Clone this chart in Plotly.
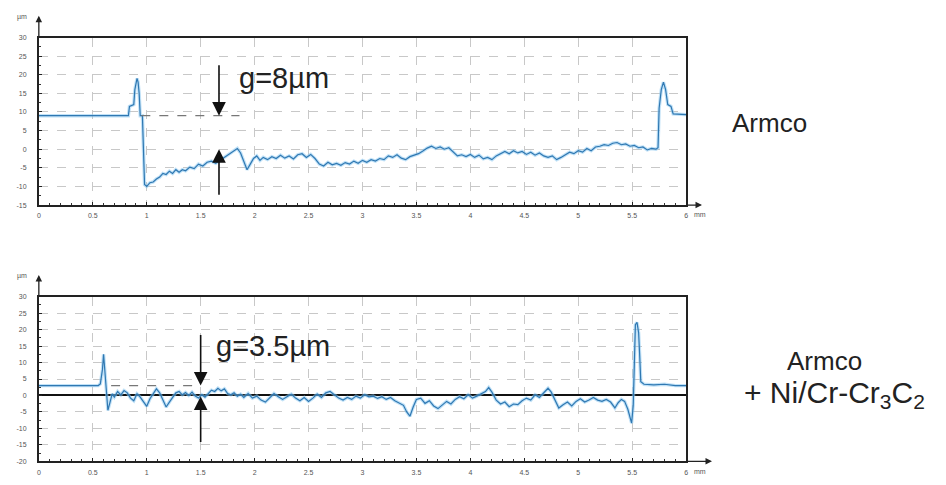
import plotly.graph_objects as go

# ---------------- data ----------------
top_x = [0, 0.83, 0.84, 0.88, 0.89, 0.91, 0.92, 0.93, 0.94, 0.96, 0.98, 1.00, 1.03, 1.06, 1.09, 1.12, 1.15,
         1.18, 1.21, 1.24, 1.27, 1.30, 1.33, 1.36, 1.40, 1.44, 1.48, 1.52, 1.56, 1.60, 1.64, 1.68, 1.72,
         1.76, 1.80, 1.84, 1.87, 1.90, 1.93, 1.96, 1.99, 2.02, 2.05, 2.08, 2.12, 2.16, 2.20, 2.24, 2.28,
         2.32, 2.36, 2.40, 2.44, 2.48, 2.52, 2.56, 2.60, 2.64, 2.68, 2.72, 2.76, 2.80, 2.84, 2.88, 2.92,
         2.96, 3.00, 3.04, 3.08, 3.12, 3.16, 3.20, 3.24, 3.28, 3.32, 3.36, 3.40, 3.44, 3.48, 3.52, 3.56,
         3.60, 3.64, 3.68, 3.72, 3.76, 3.80, 3.84, 3.88, 3.92, 3.96, 4.00, 4.04, 4.08, 4.12, 4.16, 4.20,
         4.24, 4.28, 4.32, 4.36, 4.40, 4.44, 4.48, 4.52, 4.56, 4.60, 4.64, 4.68, 4.72, 4.76, 4.80, 4.84,
         4.88, 4.92, 4.96, 5.00, 5.04, 5.08, 5.12, 5.16, 5.20, 5.24, 5.28, 5.32, 5.36, 5.40, 5.44, 5.48,
         5.52, 5.56, 5.60, 5.64, 5.68, 5.72, 5.74, 5.75, 5.77, 5.79, 5.81, 5.83, 5.86, 5.88, 6.0]
top_y = [9.0, 9.0, 11.5, 12.0, 16, 19, 18, 15, 9, 9, -9.5, -10, -9, -8.8, -8, -7.5, -6.5,
         -6.8, -5.9, -6.5, -5.5, -6.2, -5.5, -5.8, -4.8, -5.2, -4.0, -4.5, -3.5, -3.2, -3.8, -3.0, -2.2,
         -1.5, -0.5, 0.2, -1.0, -3.5, -5.5, -4.0, -2.5, -1.8, -3.0, -2.2, -2.8, -2.0, -2.5, -1.6, -2.4,
         -1.8, -2.6, -1.5, -1.2, -2.2, -1.4, -2.5, -4.0, -4.5, -3.5, -4.2, -3.8, -4.3, -3.6, -4.0, -3.2,
         -3.8, -3.0, -3.5, -2.8, -3.2, -2.5, -2.8, -1.8, -2.2, -1.5, -2.4, -2.8, -2.0, -1.6, -1.2, -0.5,
         0.3, 0.8, 0.2, 0.6, 0.0, 0.4, -0.8, -1.8, -1.5, -2.0, -1.4, -2.2, -1.6, -2.6, -2.2, -2.8,
         -1.8, -1.2, -0.6, -1.2, -0.4, -1.0, -0.6, -1.4, -0.8, -1.6, -1.0, -1.8, -2.2, -1.8, -2.8, -2.2,
         -1.4, -0.8, -1.2, -0.4, -0.8, 0.2, -0.4, 0.6, 0.8, 1.2, 1.0, 1.6, 1.8, 1.2, 1.4, 0.8,
         1.0, 0.4, 0.6, -0.2, 0.2, 0.0, 0.4, 11, 16, 18, 16, 12, 11.5, 9.5, 9.3]

bot_x = [0, 0.55, 0.57, 0.59, 0.60, 0.61, 0.62, 0.64, 0.66, 0.68, 0.70, 0.73, 0.76, 0.79, 0.82, 0.85,
         0.88, 0.91, 0.94, 0.97, 1.00, 1.03, 1.06, 1.09, 1.12, 1.15, 1.18, 1.21, 1.24, 1.27, 1.30, 1.33,
         1.36, 1.39, 1.42, 1.45, 1.48, 1.51, 1.54, 1.57, 1.60, 1.63, 1.66, 1.69, 1.72, 1.75, 1.78, 1.81,
         1.84, 1.87, 1.90, 1.94, 1.98, 2.02, 2.06, 2.10, 2.14, 2.18, 2.22, 2.26, 2.30, 2.34, 2.38, 2.42,
         2.46, 2.50, 2.54, 2.58, 2.62, 2.66, 2.70, 2.74, 2.78, 2.82, 2.86, 2.90, 2.94, 2.98, 3.02, 3.06,
         3.10, 3.14, 3.18, 3.22, 3.26, 3.30, 3.34, 3.38, 3.41, 3.44, 3.47, 3.50, 3.54, 3.58, 3.62, 3.66,
         3.70, 3.74, 3.78, 3.82, 3.86, 3.90, 3.94, 3.98, 4.02, 4.06, 4.10, 4.14, 4.17, 4.20, 4.24, 4.28,
         4.32, 4.36, 4.40, 4.44, 4.48, 4.52, 4.56, 4.60, 4.64, 4.68, 4.72, 4.75, 4.78, 4.82, 4.86, 4.90,
         4.94, 4.98, 5.02, 5.06, 5.10, 5.14, 5.18, 5.22, 5.26, 5.30, 5.34, 5.37, 5.40, 5.43, 5.46, 5.48,
         5.495, 5.51, 5.52, 5.53, 5.545, 5.56, 5.57, 5.58, 5.61, 5.7, 5.8, 5.9, 6.0]
bot_y = [3, 3, 3.5, 8, 12.5, 8, 2, -4.5, -2, 0.5, -0.5, 1.2, 0.2, 1.5, 0.8, -0.8,
         -1.6, 0.5, -0.5, -2.0, -3.3, -1.0, 0.5, 2.0, 0.8, -1.5, -3.5, -2.0, -0.5, 0.8, 1.2, 0.2,
         0.9, 0.0, 1.0, -0.2, -0.8, 0.2, -0.5, 0.6, 1.6, 1.2, 2.2, 1.4, 2.0, 0.6, 0.2, 0.8,
         -0.2, 0.4, -0.6, 0.6, -0.8, -0.2, -1.4, -2.0, -0.8, 0.6, -0.4, -1.2, -0.4, 0.4, -0.8, -1.6,
         -0.6, -1.8, -0.8, 0.4, -0.6, 0.8, 1.2, 0.2, -0.8, -1.4, -0.6, -1.2, -0.2, -0.8, 0.2, -0.4,
         -0.2, -0.9, -0.4, -1.2, -0.6, -1.6, -2.2, -3.0, -5.0, -6.3, -3.5, -1.2, -0.8, -2.4, -1.6, -3.2,
         -4.0, -2.8, -1.8, -2.6, -1.2, -0.4, -1.0, 0.2, -0.8, -0.2, 0.6, 1.2, 2.4, 1.0, -1.4, -2.6,
         -2.0, -3.4, -2.6, -2.8, -1.6, -0.8, -1.4, 0.2, -0.6, 0.8, 2.2, 1.0, -1.0, -3.8, -2.8, -2.0,
         -3.2, -1.8, -1.0, -2.0, -1.4, -0.6, -1.4, -1.8, -1.2, -2.0, -3.8, -2.2, -1.2, -1.8, -4.2, -7.0,
         -8.4, -3.0, 10, 21.5, 22.2, 19, 12, 4.2, 3.4, 3.2, 3.4, 3.0, 3.0]

x_ticks = [0, 0.5, 1, 1.5, 2, 2.5, 3, 3.5, 4, 4.5, 5, 5.5, 6]
x_tick_text = ["0", "0.5", "1", "1.5", "2", "2.5", "3", "3.5", "4", "4.5", "5", "5.5", "6"]
top_y_ticks = [30, 25, 20, 15, 10, 5, 0, -5, -10, -15]
bot_y_ticks = [30, 25, 20, 15, 10, 5, 0, -5, -10, -15, -20]

# gap annotations (data units)
top_gap = dict(x=1.67, upper=9.0, lower=0.0, ref_x0=0.95, ref_x1=1.86, text="g=8µm", tx=1.84, ty=19.0)
bot_gap = dict(x=1.50, upper=3.0, lower=-0.3, ref_x0=0.67, ref_x1=1.44, text="g=3.5µm", tx=1.62, ty=15.0)

W, H = 946, 485
def py(p):  # pixel row -> paper y
    return 1 - p / H
def px(p):
    return p / W

X0, X1 = px(37), px(687)
top_dom = [py(204), py(34)]
bot_dom = [py(464), py(297)]

fig = go.Figure()
line_glow = dict(color="rgba(140,200,240,0.55)", width=3.4)
line_core = dict(color="#2f78b2", width=1.2)
for xs, ys, xa, ya in [(top_x, top_y, "x", "y"), (bot_x, bot_y, "x2", "y2")]:
    fig.add_trace(go.Scatter(x=xs, y=ys, mode="lines", line=line_glow, xaxis=xa, yaxis=ya,
                             hoverinfo="skip", showlegend=False))
    fig.add_trace(go.Scatter(x=xs, y=ys, mode="lines", line=line_core, xaxis=xa, yaxis=ya,
                             showlegend=False))

FONT = "Liberation Sans, Arial"
tickfont = dict(family=FONT, size=7, color="#555")
common_x = dict(range=[0, 6], tickvals=x_ticks, ticktext=x_tick_text, showgrid=True,
                gridcolor="#c8c8c8", griddash="dash", gridwidth=1, zeroline=False,
                showline=True, linecolor="#222", linewidth=1.8, mirror=True,
                ticks="inside", ticklen=3, tickcolor="#222", tickfont=tickfont, ticklabelstandoff=3,
                minor=dict(dtick=0.1, ticks="inside", ticklen=2, tickcolor="#333", showgrid=False))
common_y = dict(showgrid=True, gridcolor="#c8c8c8", griddash="dash", gridwidth=1,
                showline=True, linecolor="#222", linewidth=1.8, mirror=True,
                ticks="inside", ticklen=3, tickcolor="#222", tickfont=tickfont, ticklabelstandoff=9,
                minor=dict(dtick=2.5, ticks="inside", ticklen=2, tickcolor="#333", showgrid=False))

fig.update_layout(
    width=W, height=H, margin=dict(l=0, r=0, t=0, b=0),
    paper_bgcolor="white", plot_bgcolor="white", showlegend=False,
    xaxis=dict(domain=[X0, X1], anchor="y", **common_x),
    yaxis=dict(domain=top_dom, anchor="x", range=[-15, 30], tickvals=top_y_ticks,
               ticktext=[str(v) for v in top_y_ticks], zeroline=False, **common_y),
    xaxis2=dict(domain=[X0, X1], anchor="y2", **common_x),
    yaxis2=dict(domain=bot_dom, anchor="x2", range=[-20, 30], tickvals=bot_y_ticks,
                ticktext=[str(v) for v in bot_y_ticks], zeroline=True, zerolinecolor="#111",
                zerolinewidth=2, **common_y),
)

shapes = []
anns = []
for g, xr, yr in [(top_gap, "x", "y"), (bot_gap, "x2", "y2")]:
    shapes.append(dict(type="line", xref=xr, yref=yr, x0=g["ref_x0"], x1=g["ref_x1"],
                       y0=g["upper"], y1=g["upper"], line=dict(color="#777", width=1.2, dash="dash")))
    anns.append(dict(xref=xr, yref=yr, x=g["x"], y=g["upper"], ax=0, ay=-52, showarrow=True,
                     arrowhead=2, arrowsize=1.7, arrowwidth=1.6, arrowcolor="#111", text=""))
    anns.append(dict(xref=xr, yref=yr, x=g["x"], y=g["lower"], ax=0, ay=47, showarrow=True,
                     arrowhead=2, arrowsize=1.7, arrowwidth=1.6, arrowcolor="#111", text=""))
    anns.append(dict(xref=xr, yref=yr, x=g["tx"], y=g["ty"], text=g["text"], showarrow=False,
                     xanchor="left", yanchor="middle",
                     font=dict(family=FONT, size=29, color="#222")))

# axis arrows and unit labels
for dom, tip_off in [(top_dom, 16), (bot_dom, 26)]:
    anns.append(dict(xref="paper", yref="paper", x=X0, y=dom[1] + 22 / H, ax=0, ay=22,
                     showarrow=True, arrowhead=2, arrowsize=1, arrowwidth=1.3, arrowcolor="#222", text=""))
    anns.append(dict(xref="paper", yref="paper", x=X0 - 10 / W, y=dom[1] + 21 / H, text="µm",
                     xanchor="right", yanchor="middle",
                     showarrow=False, font=dict(family=FONT, size=7, color="#555")))
    anns.append(dict(xref="paper", yref="paper", x=X1 + tip_off / W, y=dom[0], ax=-tip_off, ay=0,
                     showarrow=True, arrowhead=2, arrowsize=1, arrowwidth=1.3, arrowcolor="#222", text=""))
    anns.append(dict(xref="paper", yref="paper", x=X1 + 6 / W, y=dom[0] - 10 / H, text="mm",
                     xanchor="left", yanchor="middle",
                     showarrow=False, font=dict(family=FONT, size=7, color="#555")))

anns.append(dict(xref="paper", yref="paper", x=px(771), y=py(121), text="Armco", showarrow=False,
                 xanchor="center", yanchor="middle",
                 font=dict(family=FONT, size=26, color="#222")))
anns.append(dict(xref="paper", yref="paper", x=px(826), y=py(362), text="Armco", showarrow=False,
                 xanchor="center", yanchor="middle",
                 font=dict(family=FONT, size=26, color="#222")))
anns.append(dict(xref="paper", yref="paper", x=px(743), y=py(396), text="+ Ni/Cr-Cr<sub>3</sub>C<sub>2</sub>",
                 showarrow=False, xanchor="left", yanchor="middle",
                 font=dict(family=FONT, size=30, color="#222")))

fig.update_layout(shapes=shapes, annotations=anns)
fig.write_html("out.html")
